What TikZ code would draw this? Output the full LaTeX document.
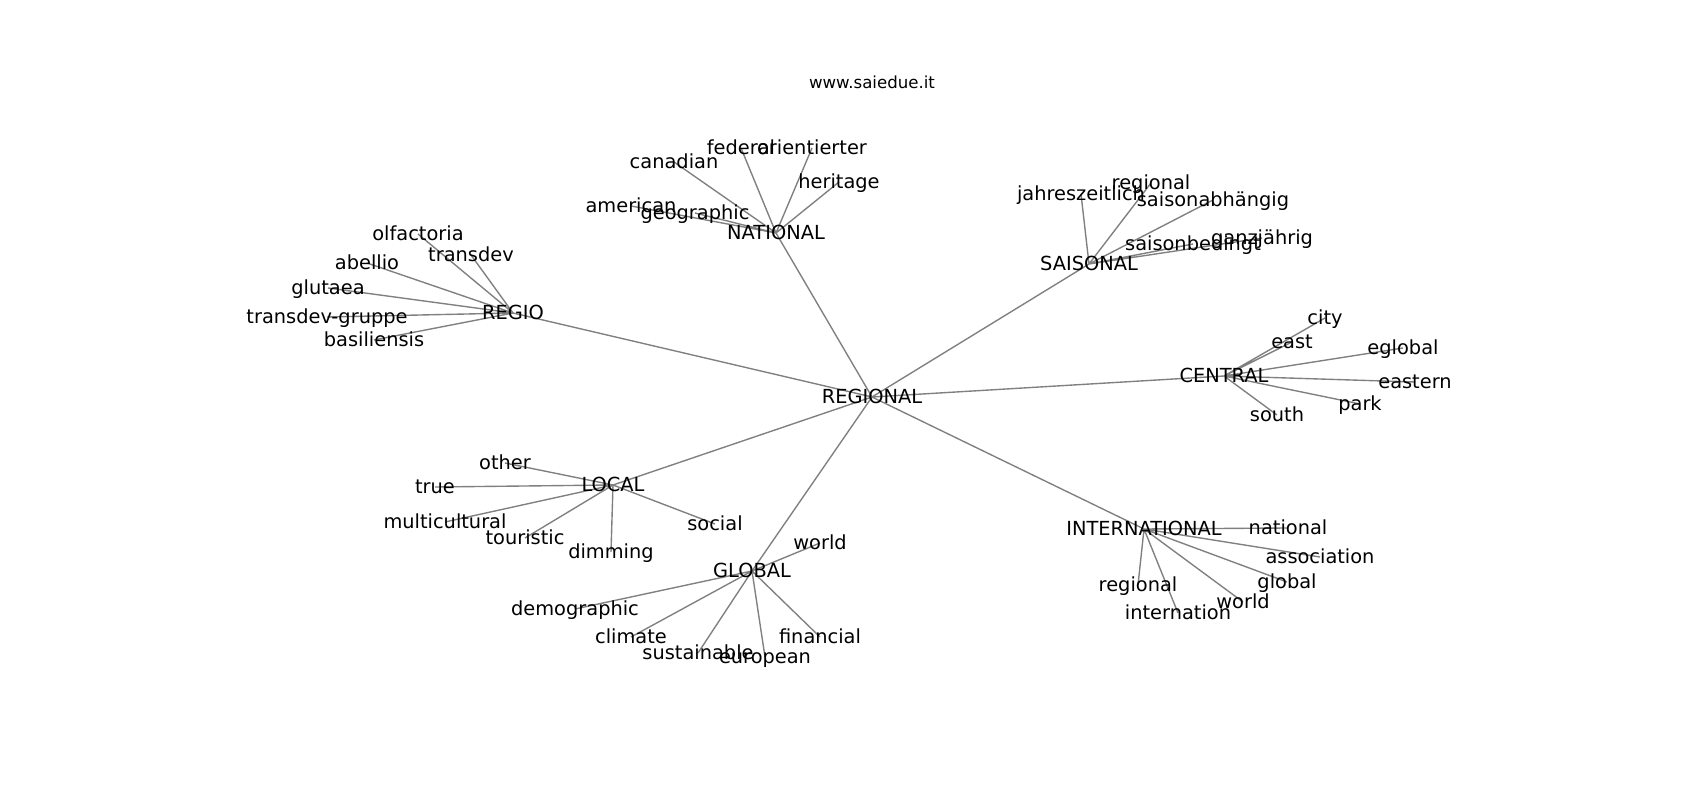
\documentclass[tikz,border=0pt]{standalone}
\usepackage{fontspec}
\setmainfont{DejaVu Sans}
\usetikzlibrary{backgrounds}

\begin{document}
\begin{tikzpicture}[
			x=0.01in, y=-0.01in,
			word/.style={inner sep=0pt, text height=0.96em, text depth=0em,
				font=\fontsize{14}{17}\selectfont},
			link/.style={draw=gray, line width=1pt}
			]
			\useasboundingbox (0,0) rectangle (1700,800);
			
			\node[word, font=\fontsize{12}{14}\selectfont] (site) at (872,82) {www.saiedue.it};
			
			% hubs
			\node[word] (regional) at (872,397) {REGIONAL};
			\node[word] (national) at (776,233) {NATIONAL};
			\node[word] (saisonal) at (1089,264) {SAISONAL};
			\node[word] (regio) at (513,313) {REGIO};
			\node[word] (central) at (1224,376) {CENTRAL};
			\node[word] (local) at (613,485) {LOCAL};
			\node[word] (global) at (752,571) {GLOBAL};
			\node[word] (international) at (1144,529) {INTERNATIONAL};
			
			% NATIONAL
			\node[word] (canadian) at (674,162) {canadian};
			\node[word] (federal) at (741,148) {federal};
			\node[word] (orientierter) at (812,148) {orientierter};
			\node[word] (heritage) at (839,182) {heritage};
			\node[word] (american) at (631,206) {american};
			\node[word] (geographic) at (695,213) {geographic};
			
			% SAISONAL
			\node[word] (jahreszeitlich) at (1081,194) {jahreszeitlich};
			\node[word] (s-regional) at (1151,183) {regional};
			\node[word] (saisonabhaengig) at (1213,200) {saisonabhängig};
			\node[word] (saisonbedingt) at (1193,244) {saisonbedingt};
			\node[word] (ganzjaehrig) at (1262,238) {ganzjährig};
			
			% REGIO
			\node[word] (olfactoria) at (418,234) {olfactoria};
			\node[word] (transdev) at (471,255) {transdev};
			\node[word] (abellio) at (367,263) {abellio};
			\node[word] (glutaea) at (328,288) {glutaea};
			\node[word] (transdev-gruppe) at (327,317) {transdev-gruppe};
			\node[word] (basiliensis) at (374,340) {basiliensis};
			
			% CENTRAL
			\node[word] (city) at (1325,318) {city};
			\node[word] (east) at (1292,342) {east};
			\node[word] (eglobal) at (1403,348) {eglobal};
			\node[word] (eastern) at (1415,382) {eastern};
			\node[word] (park) at (1360,404) {park};
			\node[word] (south) at (1277,415) {south};
			
			% LOCAL
			\node[word] (other) at (505,463) {other};
			\node[word] (true) at (435,487) {true};
			\node[word] (multicultural) at (445,522) {multicultural};
			\node[word] (touristic) at (525,538) {touristic};
			\node[word] (dimming) at (611,552) {dimming};
			\node[word] (social) at (715,524) {social};
			
			% GLOBAL
			\node[word] (g-world) at (820,543) {world};
			\node[word] (demographic) at (575,609) {demographic};
			\node[word] (climate) at (631,637) {climate};
			\node[word] (sustainable) at (698,653) {sustainable};
			\node[word] (european) at (765,657) {european};
			\node[word] (financial) at (820,637) {financial};
			
			% INTERNATIONAL
			\node[word] (i-national) at (1288,528) {national};
			\node[word] (association) at (1320,557) {association};
			\node[word] (i-global) at (1287,582) {global};
			\node[word] (i-world) at (1243,602) {world};
			\node[word] (i-regional) at (1138,585) {regional};
			\node[word] (internation) at (1178,613) {internation};
			
			\begin{scope}[on background layer]
				\path[link] (regional.center) -- (national.center)
					(regional.center) -- (saisonal.center)
					(regional.center) -- (regio.center)
					(regional.center) -- (central.center)
					(regional.center) -- (local.center)
					(regional.center) -- (global.center)
					(regional.center) -- (international.center);
				\path[link] (national.center) -- (canadian.center)
					(national.center) -- (federal.center)
					(national.center) -- (orientierter.center)
					(national.center) -- (heritage.center)
					(national.center) -- (american.center)
					(national.center) -- (geographic.center);
				\path[link] (saisonal.center) -- (jahreszeitlich.center)
					(saisonal.center) -- (s-regional.center)
					(saisonal.center) -- (saisonabhaengig.center)
					(saisonal.center) -- (saisonbedingt.center)
					(saisonal.center) -- (ganzjaehrig.center);
				\path[link] (regio.center) -- (olfactoria.center)
					(regio.center) -- (transdev.center)
					(regio.center) -- (abellio.center)
					(regio.center) -- (glutaea.center)
					(regio.center) -- (transdev-gruppe.center)
					(regio.center) -- (basiliensis.center);
				\path[link] (central.center) -- (city.center)
					(central.center) -- (east.center)
					(central.center) -- (eglobal.center)
					(central.center) -- (eastern.center)
					(central.center) -- (park.center)
					(central.center) -- (south.center);
				\path[link] (local.center) -- (other.center)
					(local.center) -- (true.center)
					(local.center) -- (multicultural.center)
					(local.center) -- (touristic.center)
					(local.center) -- (dimming.center)
					(local.center) -- (social.center);
				\path[link] (global.center) -- (g-world.center)
					(global.center) -- (demographic.center)
					(global.center) -- (climate.center)
					(global.center) -- (sustainable.center)
					(global.center) -- (european.center)
					(global.center) -- (financial.center);
				\path[link] (international.center) -- (i-national.center)
					(international.center) -- (association.center)
					(international.center) -- (i-global.center)
					(international.center) -- (i-world.center)
					(international.center) -- (i-regional.center)
					(international.center) -- (internation.center);
			\end{scope}
		\end{tikzpicture}
\end{document}
